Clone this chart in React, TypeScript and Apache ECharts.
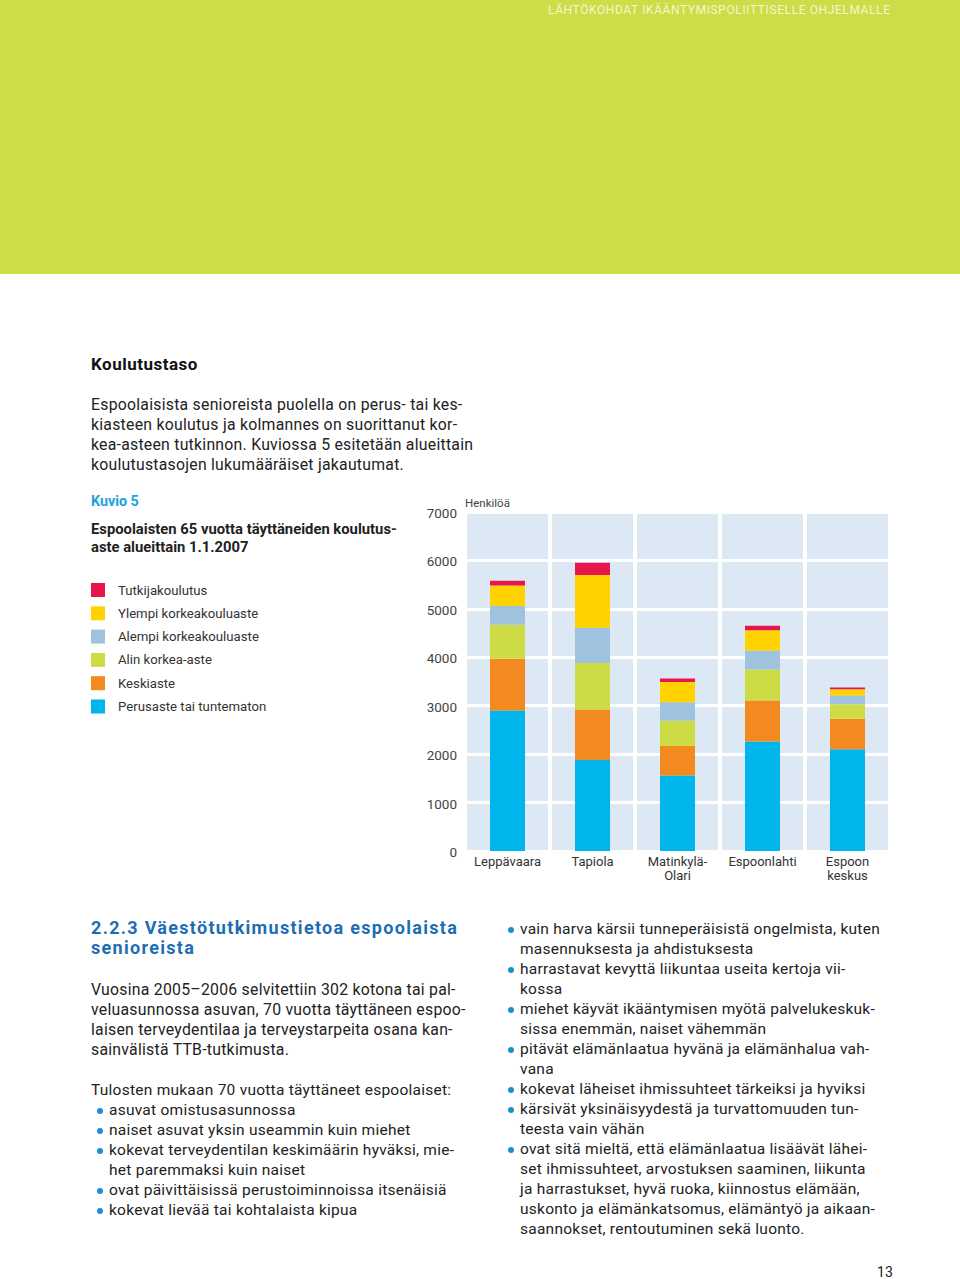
import React, { useEffect, useRef } from "react";
import * as echarts from "echarts";

const categories = ["Leppävaara", "Tapiola", "Matinkylä-\nOlari", "Espoonlahti", "Espoon\nkeskus"];
const seriesNames = [
  "Perusaste tai tuntematon",
  "Keskiaste",
  "Alin korkea-aste",
  "Alempi korkeakouluaste",
  "Ylempi korkeakouluaste",
  "Tutkijakoulutus",
];
const perusaste = [2900, 1880, 1560, 2260, 2100];
const keskiaste = [1070, 1040, 610, 850, 630];
const alinKorkea = [700, 960, 520, 640, 300];
const alempiKorkeakoulu = [390, 730, 380, 390, 180];
const ylempiKorkeakoulu = [420, 1090, 420, 420, 130];
const tutkija = [100, 250, 70, 90, 35];
const seriesValues = [perusaste, keskiaste, alinKorkea, alempiKorkeakoulu, ylempiKorkeakoulu, tutkija];
const seriesColors = ["#00b4ec", "#f28a20", "#cddc45", "#9fc3df", "#ffd200", "#e6174f"];
const yTicks = { min: 0, max: 7000, interval: 1000 };

const FONT = "Roboto, 'Liberation Sans', sans-serif";

function Chart() {
  const ref = useRef<HTMLDivElement>(null);
  useEffect(() => {
    if (!ref.current) return;
    const chart = echarts.init(ref.current, undefined, { renderer: "svg" });
    chart.setOption({
      animation: false,
      textStyle: { fontFamily: FONT },
      title: {
        text: "Kuvio 5",
        subtext: "Espoolaisten 65 vuotta täyttäneiden koulutus-\naste alueittain 1.1.2007",
        left: 91,
        top: 14,
        padding: 0,
        itemGap: 12,
        textStyle: { fontSize: 14.3, fontWeight: "bold", color: "#1ba4dc", fontFamily: FONT },
        subtextStyle: { fontSize: 14.8, fontWeight: "bold", color: "#222", lineHeight: 18, fontFamily: FONT },
      },
      legend: {
        orient: "vertical",
        left: 91,
        top: 103,
        padding: 0,
        itemWidth: 14,
        itemHeight: 14,
        itemGap: 9.3,
        icon: "rect",
        data: seriesNames.slice().reverse(),
        textStyle: { fontSize: 13.2, color: "#333", padding: [0, 0, 0, 8], fontFamily: FONT },
      },
      grid: {
        left: 465,
        right: 70,
        top: 32,
        bottom: 39,
        show: true,
        backgroundColor: "#dce8f3",
        borderWidth: 0,
      },
      xAxis: {
        type: "category",
        data: categories,
        axisLine: { show: false },
        axisTick: { show: false },
        splitLine: { show: true, lineStyle: { color: "#ffffff", width: 4 } },
        axisLabel: { fontSize: 13, color: "#333", margin: 3, lineHeight: 14, interval: 0 },
      },
      yAxis: {
        type: "value",
        min: yTicks.min,
        max: yTicks.max,
        interval: yTicks.interval,
        name: "Henkilöä",
        nameLocation: "end",
        nameGap: 9,
        nameTextStyle: { align: "left", verticalAlign: "middle", fontSize: 11.5, color: "#444" },
        axisLine: { show: false },
        axisTick: { show: false },
        splitLine: { show: true, lineStyle: { color: "#ffffff", width: 3 } },
        axisLabel: {
          fontSize: 13.5,
          color: "#444",
          margin: 8,
          verticalAlign: "top",
          padding: [-6, 0, 0, 0],
          formatter: (v: number) => String(v),
        },
      },
      series: seriesNames.map((name, i) => ({
        name,
        type: "bar",
        stack: "total",
        barWidth: 35,
        data: seriesValues[i],
        itemStyle: { color: seriesColors[i] },
      })),
    });
    return () => chart.dispose();
  }, []);
  return <div ref={ref} style={{ position: "absolute", left: 0, top: 480, width: 960, height: 410 }} />;
}

const bullet = (text: React.ReactNode, key: number) => (
  <div key={key} style={{ position: "relative", paddingLeft: 18 }}>
    <span
      style={{
        position: "absolute",
        left: 6,
        top: 8,
        width: 6,
        height: 6,
        borderRadius: 3,
        background: "#1b8fd2",
      }}
    />
    {text}
  </div>
);

const leftBullets = [
  ["asuvat omistusasunnossa"],
  ["naiset asuvat yksin useammin kuin miehet"],
  ["kokevat terveydentilan keskimäärin hyväksi, mie-", "het paremmaksi kuin naiset"],
  ["ovat päivittäisissä perustoiminnoissa itsenäisiä"],
  ["kokevat lievää tai kohtalaista kipua"],
];
const rightBullets = [
  ["vain harva kärsii tunneperäisistä ongelmista, kuten", "masennuksesta ja ahdistuksesta"],
  ["harrastavat kevyttä liikuntaa useita kertoja vii-", "kossa"],
  ["miehet käyvät ikääntymisen myötä palvelukeskuk-", "sissa enemmän, naiset vähemmän"],
  ["pitävät elämänlaatua hyvänä ja elämänhalua vah-", "vana"],
  ["kokevat läheiset ihmissuhteet tärkeiksi ja hyviksi"],
  ["kärsivät yksinäisyydestä ja turvattomuuden tun-", "teesta vain vähän"],
  [
    "ovat sitä mieltä, että elämänlaatua lisäävät lähei-",
    "set ihmissuhteet, arvostuksen saaminen, liikunta",
    "ja harrastukset, hyvä ruoka, kiinnostus elämään,",
    "uskonto ja elämänkatsomus, elämäntyö ja aikaan-",
    "saannokset, rentoutuminen sekä luonto.",
  ],
];

const lines = (arr: string[]) =>
  arr.map((l, i) => (
    <React.Fragment key={i}>
      {l}
      {i < arr.length - 1 ? <br /> : null}
    </React.Fragment>
  ));

export default function App() {
  useEffect(() => {
    document.body.style.margin = "0";
  }, []);
  const body: React.CSSProperties = {
    position: "absolute",
    fontFamily: FONT,
    fontSize: 15.5,
    letterSpacing: 0.25,
    lineHeight: "20px",
    color: "#222",
    whiteSpace: "nowrap",
  };
  return (
    <div style={{ position: "relative", width: 960, height: 1279, background: "#fff", overflow: "hidden" }}>
      <div style={{ position: "absolute", left: 0, top: 0, width: 960, height: 274, background: "#cddc47" }} />
      <div
        style={{
          position: "absolute",
          left: 548,
          top: 3,
          fontFamily: FONT,
          fontSize: 12,
          letterSpacing: 0.6,
          color: "#f3f7cf",
          whiteSpace: "nowrap",
        }}
      >
        LÄHTÖKOHDAT IKÄÄNTYMISPOLIITTISELLE OHJELMALLE
      </div>
      <div style={{ ...body, left: 91, top: 354, fontSize: 17, letterSpacing: 0.5, fontWeight: "bold", color: "#111" }}>
        Koulutustaso
      </div>
      <div style={{ ...body, left: 91, top: 395, fontSize: 15.8 }}>
        {lines([
          "Espoolaisista senioreista puolella on perus- tai kes-",
          "kiasteen koulutus ja kolmannes on suorittanut kor-",
          "kea-asteen tutkinnon. Kuviossa 5 esitetään alueittain",
          "koulutustasojen lukumääräiset jakautumat.",
        ])}
      </div>
      <Chart />
      <div
        style={{
          ...body,
          left: 91,
          top: 918,
          fontSize: 18,
          letterSpacing: 1.3,
          fontWeight: "bold",
          color: "#1c6db3",
          lineHeight: "20px",
        }}
      >
        2.2.3 Väestötutkimustietoa espoolaista
        <br />
        senioreista
      </div>
      <div style={{ ...body, left: 91, top: 980, fontSize: 15.8 }}>
        {lines([
          "Vuosina 2005–2006 selvitettiin 302 kotona tai pal-",
          "veluasunnossa asuvan, 70 vuotta täyttäneen espoo-",
          "laisen terveydentilaa ja terveystarpeita osana kan-",
          "sainvälistä TTB-tutkimusta.",
        ])}
      </div>
      <div style={{ ...body, left: 91, top: 1080 }}>
        Tulosten mukaan 70 vuotta täyttäneet espoolaiset:
        {leftBullets.map((b, i) => bullet(lines(b), i))}
      </div>
      <div style={{ ...body, left: 502, top: 919 }}>{rightBullets.map((b, i) => bullet(lines(b), i))}</div>
      <div style={{ ...body, left: 877, top: 1262, fontSize: 14 }}>13</div>
    </div>
  );
}
